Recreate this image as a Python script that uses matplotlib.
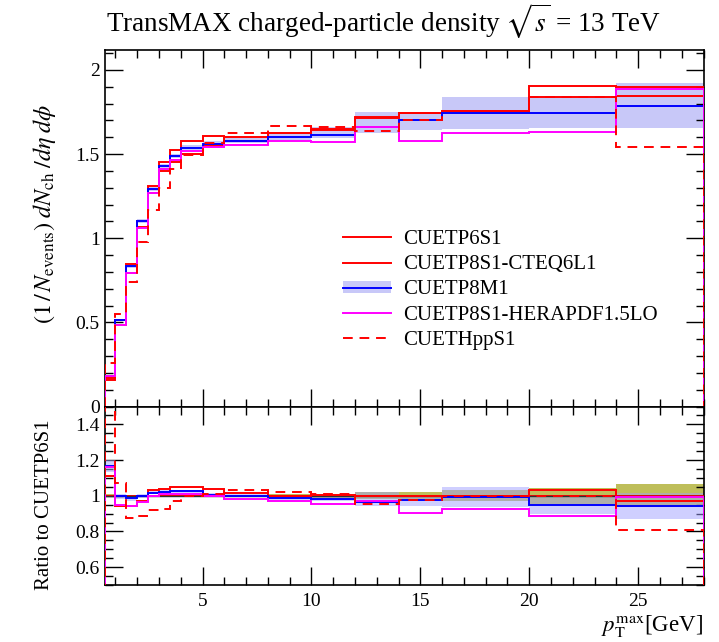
import numpy as np
import matplotlib
matplotlib.use("Agg")
import matplotlib.pyplot as plt
from matplotlib.lines import Line2D
from matplotlib.patches import Patch
from matplotlib.ticker import MultipleLocator

plt.rcParams['font.family'] = ['Liberation Serif', 'DejaVu Serif']
plt.rcParams['mathtext.fontset'] = 'stix'

# bin edges in pT^max [GeV]
edges = [0.5, 1.0, 1.5, 2.0, 2.5, 3.0, 3.5, 4.0, 5.0, 6.0, 8.0, 10.0, 12.0, 14.0, 16.0, 20.0, 24.0, 28.0]

labels = ["CUETP6S1", "CUETP8S1-CTEQ6L1", "CUETP8M1", "CUETP8S1-HERAPDF1.5LO", "CUETHppS1"]

cuetp6s1 = [0.155, 0.515, 0.845, 1.100, 1.270, 1.400, 1.453, 1.500, 1.550, 1.580,
            1.627, 1.645, 1.718, 1.745, 1.756, 1.840, 1.900]
cuetp8s1_cteq = [0.172, 0.485, 0.795, 1.065, 1.312, 1.453, 1.524, 1.575, 1.609, 1.604,
                 1.627, 1.650, 1.715, 1.746, 1.758, 1.904, 1.845]
cuetp8m1 = [0.181, 0.513, 0.832, 1.100, 1.293, 1.430, 1.488, 1.537, 1.560, 1.580,
            1.603, 1.613, 1.659, 1.705, 1.746, 1.742, 1.786]
cuetp8m1_lo = [0.176, 0.506, 0.822, 1.088, 1.280, 1.418, 1.476, 1.522, 1.545, 1.565,
               1.575, 1.596, 1.623, 1.643, 1.647, 1.655, 1.655]
cuetp8m1_hi = [0.186, 0.520, 0.842, 1.112, 1.306, 1.442, 1.500, 1.552, 1.575, 1.595,
               1.627, 1.660, 1.752, 1.752, 1.840, 1.830, 1.924]
cuetp8s1_hera = [0.180, 0.487, 0.795, 1.060, 1.266, 1.410, 1.466, 1.515, 1.544, 1.552,
                 1.578, 1.572, 1.663, 1.580, 1.627, 1.630, 1.885]
cuethpps1 = [0.260, 0.552, 0.740, 0.975, 1.170, 1.300, 1.410, 1.495, 1.567, 1.627,
             1.665, 1.662, 1.639, 1.700, 1.756, 1.840, 1.540]
# relative uncertainty of the CUETP6S1 reference in the ratio panel
ref_relerr = [0.008, 0.006, 0.005, 0.005, 0.005, 0.005, 0.005, 0.005, 0.006, 0.006,
              0.008, 0.012, 0.020, 0.022, 0.030, 0.045, 0.065]

ref = np.array(cuetp6s1)
e = np.array(edges)

RED = '#ff0000'
BLUE = '#0000ff'
MAG = '#ff00ff'
BAND = '#c8c8f8'
OLIVE = '#bebe5a'
LW = 1.4
DASH = (5, 3.5)

W, H = 719, 642
fig = plt.figure(figsize=(W / 100, H / 100), dpi=100)
left, right = 104.5 / W, 703.5 / W
ytop, ymid, ybot = 1 - 50 / H, 1 - 406.5 / H, 1 - 585 / H
ax = fig.add_axes([left, ymid, right - left, ytop - ymid])
rx = fig.add_axes([left, ybot, right - left, ymid - ybot], sharex=ax)

# ---- main panel ----
ax.stairs(cuetp8m1_hi, e, baseline=cuetp8m1_lo, fill=True, color=BAND, lw=0, zorder=1)
ax.stairs(cuetp6s1, e, color=RED, lw=LW, zorder=3)
ax.stairs(cuetp8s1_cteq, e, color=RED, lw=LW, zorder=3)
ax.stairs(cuetp8m1, e, color=BLUE, lw=LW, zorder=3)
ax.stairs(cuetp8s1_hera, e, color=MAG, lw=LW, zorder=3)
ax.stairs(cuethpps1, e, color=RED, lw=LW, linestyle=(0, DASH), zorder=3)

ax.set_xlim(0.5, 28.0)
ax.set_ylim(0, 2.118)

# ---- ratio panel ----
rerr = np.array(ref_relerr)
rx.stairs(1 + rerr, e, baseline=1 - rerr, fill=True, color=OLIVE, lw=0, zorder=1)
rx.stairs(np.array(cuetp8m1_hi) / ref, e, baseline=np.array(cuetp8m1_lo) / ref,
          fill=True, color='#a0a0ff', alpha=0.5, lw=0, zorder=2)
rx.stairs(np.array(cuetp6s1) / ref, e, color=RED, lw=LW, zorder=3)
rx.axhline(1.0, color='#303030', lw=1.0, zorder=3)
rx.stairs(np.array(cuetp8s1_cteq) / ref, e, color=RED, lw=LW, zorder=4)
rx.stairs(np.array(cuetp8m1) / ref, e, color=BLUE, lw=LW, zorder=4)
rx.stairs(np.array(cuetp8s1_hera) / ref, e, color=MAG, lw=LW, zorder=4)
rx.stairs(np.array(cuethpps1) / ref, e, color=RED, lw=LW, linestyle=(0, DASH), zorder=4)
rx.set_ylim(0.5, 1.5)

# ---- ticks ----
for a in (ax, rx):
    a.tick_params(which='both', direction='in', top=True, right=True, labelsize=14)
    a.tick_params(which='major', length=13, width=1.0)
    a.tick_params(which='minor', length=6, width=1.0)
    a.xaxis.set_major_locator(MultipleLocator(5))
    a.xaxis.set_minor_locator(MultipleLocator(1))
    for s in a.spines.values():
        s.set_linewidth(1.2)
ax.yaxis.set_major_locator(MultipleLocator(0.5))
ax.yaxis.set_minor_locator(MultipleLocator(0.1))
ax.set_yticks([0, 0.5, 1, 1.5, 2])
ax.set_yticklabels(['0', '0.5', '1', '1.5', '2'])
ax.tick_params(labelbottom=False)
rx.set_yticks([0.6, 0.8, 1.0, 1.2, 1.4])
rx.set_yticklabels(['0.6', '0.8', '1', '1.2', '1.4'])
rx.yaxis.set_minor_locator(MultipleLocator(0.05))
rx.set_xticks([5, 10, 15, 20, 25])
rx.set_xticklabels(['5', '10', '15', '20', '25'])
rx.tick_params(axis='x', pad=6)

# ---- texts ----
fig.text(106 / W, 1 - 21 / H, r'TransMAX charged-particle density $\sqrt{s}$ = 13 TeV',
         fontsize=19.5, ha='left', va='center')
fig.text(45 / W, 1 - 214 / H,
         r'$(1\,/\,N_{\mathrm{events}})\;dN_{\mathrm{ch}}\;/d\eta\;d\phi$',
         rotation=90, fontsize=17.5, ha='center', va='center')
fig.text(45 / W, 1 - 505 / H, 'Ratio to CUETP6S1', rotation=90, fontsize=15,
         ha='center', va='center')
fig.text(703 / W, 2 / H, r'$p_{\mathrm{T}}^{\mathrm{max}}$[GeV]', fontsize=16.5,
         ha='right', va='bottom')

# ---- legend ----
handles = [
    Line2D([], [], color=RED, lw=LW),
    Line2D([], [], color=RED, lw=LW),
    (Patch(facecolor=BAND, edgecolor='none'), Line2D([], [], color=BLUE, lw=LW)),
    Line2D([], [], color=MAG, lw=LW),
    Line2D([], [], color=RED, lw=LW, linestyle=(0, DASH)),
]
leg = ax.legend(handles, labels, loc='upper left', frameon=False, fontsize=15,
                bbox_to_anchor=(343 / W, 1 - 230 / H), bbox_transform=fig.transFigure,
                borderpad=0, borderaxespad=0, handlelength=2.3, handletextpad=0.6,
                handleheight=0.5, labelspacing=0.3)

fig.savefig('out.png', dpi=100)
